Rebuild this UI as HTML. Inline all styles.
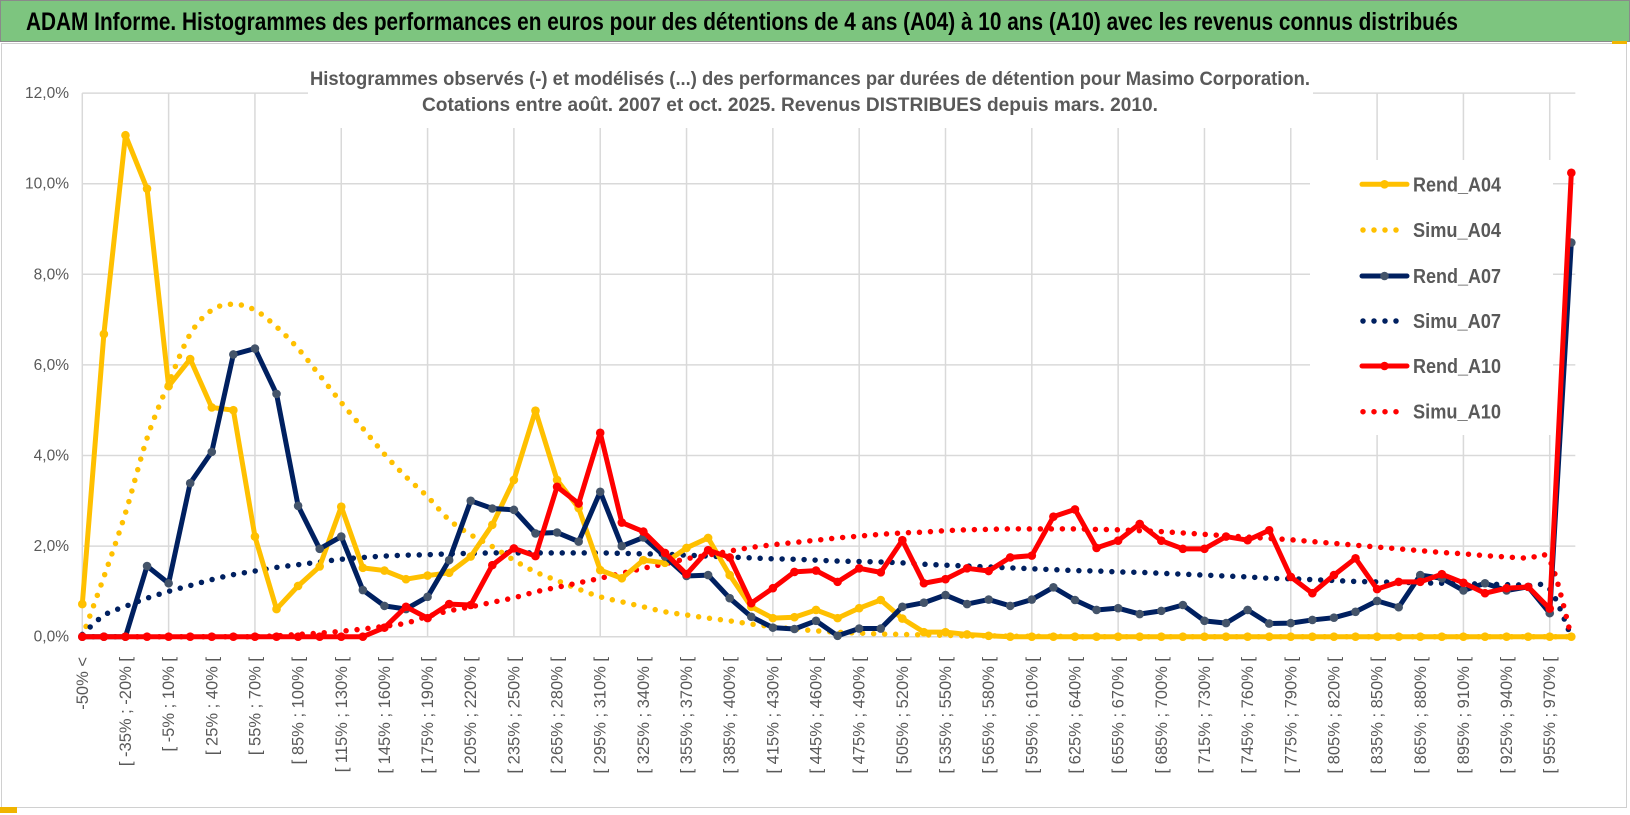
<!DOCTYPE html>
<html><head><meta charset="utf-8">
<style>
html,body{margin:0;padding:0;background:#fff;}
svg{display:block;font-family:"Liberation Sans",Arial,sans-serif;}
</style></head>
<body>
<svg id="chart" width="1630" height="815" viewBox="0 0 1630 815" xmlns="http://www.w3.org/2000/svg">
  <rect x="0.5" y="0.5" width="1629" height="41" fill="#7dc57f" stroke="#8a8a8a"/>
  <text x="26" y="30" font-size="25" font-weight="bold" fill="#000" textLength="1432" lengthAdjust="spacingAndGlyphs">ADAM Informe. Histogrammes des performances en euros pour des détentions de 4 ans (A04) à 10 ans (A10) avec les revenus connus distribués</text>
  <rect x="1.5" y="43.5" width="1625" height="764" fill="#fff" stroke="#d0d0d0"/>
  <rect x="0" y="807" width="17" height="6" fill="#f0b400"/>
  <rect x="1612" y="41" width="15" height="3" fill="#f0b400"/>
  <g id="grid"></g>
  <g id="yaxis"></g>
  <g id="xaxis"></g>
  <rect x="308" y="58" width="1005" height="70" fill="#fff"/>
  <text x="310" y="85" font-size="19" font-weight="bold" fill="#595959" textLength="1000" lengthAdjust="spacingAndGlyphs">Histogrammes observés (-) et modélisés (...) des performances par durées de détention pour Masimo Corporation.</text>
  <text x="422" y="111" font-size="19" font-weight="bold" fill="#595959" textLength="736" lengthAdjust="spacingAndGlyphs">Cotations entre août. 2007 et oct. 2025.  Revenus DISTRIBUES depuis mars. 2010.</text>
  <rect x="1310" y="160" width="243" height="275" fill="#fff"/>
  <g id="series"></g>
  <g id="legend"></g>
</svg>
<script>
// ---- data ----
const lowerBounds = [];
for (let b = -50; b <= 955; b += 15) lowerBounds.push(b);
const categories = ["-50% <"].concat(lowerBounds.map(b => "[ " + b + "% ; " + (b + 15) + "% [")).concat(["970% >"]).slice(0, 70);
const yTicks = [0, 2, 4, 6, 8, 10, 12];
const yTickLabels = ["0,0%", "2,0%", "4,0%", "6,0%", "8,0%", "10,0%", "12,0%"];
const rendA04 = [0.72,6.68,11.07,9.89,5.53,6.13,5.06,5.0,2.21,0.61,1.12,1.55,2.87,1.52,1.46,1.27,1.35,1.41,1.77,2.47,3.46,4.99,3.46,2.84,1.47,1.29,1.69,1.63,1.96,2.18,1.36,0.66,0.41,0.43,0.59,0.41,0.63,0.81,0.4,0.1,0.1,0.05,0.02,0,0,0,0,0,0,0,0,0,0,0,0,0,0,0,0,0,0,0,0,0,0,0,0,0,0,0];
const simuA04 = [0,1.32,2.73,4.38,5.6,6.68,7.21,7.34,7.21,6.84,6.36,5.77,5.17,4.6,4.03,3.53,3.09,2.58,2.25,1.99,1.69,1.43,1.24,1.05,0.88,0.77,0.66,0.55,0.48,0.41,0.35,0.28,0.22,0.17,0.13,0.10,0.08,0.06,0.05,0.04,0.03,0.02,0.02,0.01,0.01,0.01,0,0,0,0,0,0,0,0,0,0,0,0,0,0,0,0,0,0,0,0,0,0,0,0];
const rendA07 = [0,0,0,1.56,1.18,3.39,4.08,6.23,6.36,5.36,2.89,1.94,2.21,1.03,0.68,0.61,0.88,1.69,3.0,2.83,2.80,2.28,2.30,2.10,3.2,2.0,2.19,1.77,1.34,1.36,0.85,0.44,0.2,0.17,0.35,0.02,0.18,0.18,0.66,0.75,0.92,0.72,0.82,0.68,0.82,1.09,0.81,0.59,0.63,0.50,0.57,0.70,0.35,0.3,0.59,0.29,0.3,0.37,0.42,0.55,0.79,0.65,1.36,1.29,1.02,1.18,1.02,1.10,0.52,8.7];
const simuA07 = [0.05,0.47,0.67,0.85,1.0,1.13,1.26,1.37,1.45,1.53,1.59,1.65,1.71,1.75,1.78,1.80,1.81,1.83,1.84,1.85,1.85,1.85,1.85,1.85,1.85,1.84,1.83,1.82,1.80,1.78,1.76,1.74,1.72,1.71,1.69,1.67,1.66,1.65,1.63,1.60,1.58,1.56,1.54,1.52,1.50,1.48,1.46,1.45,1.43,1.42,1.40,1.38,1.36,1.34,1.32,1.29,1.28,1.26,1.24,1.22,1.21,1.20,1.19,1.18,1.17,1.16,1.15,1.13,1.05,0];
const rendA10 = [0,0,0,0,0,0,0,0,0,0,0,0,0,0.0,0.2,0.66,0.41,0.72,0.7,1.58,1.95,1.78,3.31,2.94,4.5,2.52,2.32,1.85,1.38,1.91,1.75,0.74,1.07,1.43,1.46,1.21,1.51,1.42,2.13,1.18,1.27,1.51,1.45,1.75,1.79,2.65,2.81,1.96,2.12,2.49,2.12,1.94,1.94,2.21,2.13,2.35,1.32,0.96,1.36,1.73,1.05,1.21,1.21,1.38,1.19,0.96,1.07,1.10,0.62,10.24];
const simuA10 = [0,0,0,0,0,0,0,0,0,0.02,0.05,0.08,0.12,0.17,0.23,0.30,0.45,0.57,0.66,0.76,0.86,0.99,1.09,1.19,1.29,1.40,1.51,1.61,1.72,1.80,1.89,1.97,2.03,2.08,2.13,2.18,2.22,2.26,2.29,2.31,2.34,2.36,2.37,2.38,2.38,2.38,2.38,2.37,2.36,2.34,2.32,2.29,2.26,2.23,2.20,2.17,2.14,2.10,2.06,2.02,1.98,1.94,1.90,1.86,1.83,1.79,1.76,1.73,1.68,0];
const seriesNames = ["Rend_A04","Simu_A04","Rend_A07","Simu_A07","Rend_A10","Simu_A10"];

// ---- scales ----
const NS = "http://www.w3.org/2000/svg";
const X0 = 82.3, XSTEP = 21.58, Y0 = 636.7, YPER = 45.3;
function xPos(i){ return X0 + XSTEP * i; }
function yPos(v){ return Y0 - YPER * v; }
function mk(tag, attrs, parent){
  const e = document.createElementNS(NS, tag);
  for (const k in attrs) e.setAttribute(k, attrs[k]);
  parent.appendChild(e);
  return e;
}
const grid = document.getElementById('grid');
const yaxis = document.getElementById('yaxis');
const xaxis = document.getElementById('xaxis');
const seriesG = document.getElementById('series');
const legend = document.getElementById('legend');
const xEnd = xPos(categories.length - 1) + 4;

yTicks.forEach((t, k) => {
  const l = mk('line', {x1: X0, x2: xEnd, y1: yPos(t), y2: yPos(t), stroke: '#d9d9d9', 'stroke-width': 1.5}, grid);
  
  
  const tx = mk('text', {x: 69, y: yPos(t) + 5, 'text-anchor': 'end', 'font-size': 15.5, fill: '#595959'}, yaxis);
  tx.textContent = yTickLabels[k];
  
  
});
for (let i = 0; i < categories.length; i += 4) {
  const l = mk('line', {x1: xPos(i), x2: xPos(i), y1: yPos(12), y2: Y0, stroke: '#d9d9d9', 'stroke-width': 1.5}, grid);
  
  
}
for (let i = 0; i < categories.length - 1; i += 2) {
  const x = xPos(i) + 5.5, y = 657;
  const tx = mk('text', {x: x, y: y, transform: 'rotate(-90 ' + x + ' ' + y + ')', 'text-anchor': 'end', 'font-size': 16.5, fill: '#595959'}, xaxis);
  tx.textContent = categories[i];
  
  
}

function smoothPath(vals){
  const p = vals.map((v, i) => [xPos(i), yPos(v)]);
  let d = 'M' + p[0][0] + ',' + p[0][1];
  for (let i = 0; i < p.length - 1; i++) {
    const p0 = p[Math.max(0, i - 1)], p1 = p[i], p2 = p[i + 1], p3 = p[Math.min(p.length - 1, i + 2)];
    const c1x = p1[0] + (p2[0] - p0[0]) / 6, c1y = p1[1] + (p2[1] - p0[1]) / 6;
    const c2x = p2[0] - (p3[0] - p1[0]) / 6, c2y = p2[1] - (p3[1] - p1[1]) / 6;
    d += ' C' + c1x + ',' + c1y + ' ' + c2x + ',' + c2y + ' ' + p2[0] + ',' + p2[1];
  }
  return d;
}
function drawSimu(vals, color, name){
  const p = mk('path', {d: smoothPath(vals), fill: 'none', stroke: color, 'stroke-width': 5.5, 'stroke-linecap': 'round', 'stroke-dasharray': '0 11'}, seriesG);
  
  
}
function drawRend(vals, color, markerColor, name){
  const pts = vals.map((v, i) => xPos(i) + ',' + yPos(v)).join(' ');
  const pl = mk('polyline', {points: pts, fill: 'none', stroke: color, 'stroke-width': 5, 'stroke-linejoin': 'round'}, seriesG);
  
  
  vals.forEach((v, i) => {
    const c = mk('circle', {cx: xPos(i), cy: yPos(v), r: 4.3, fill: markerColor}, seriesG);
    
    
  });
}
drawSimu(simuA04, '#ffc000', 'simu-a04-line');
drawSimu(simuA07, '#002060', 'simu-a07-line');
drawSimu(simuA10, '#ff0000', 'simu-a10-line');
drawRend(rendA04, '#ffc000', '#ffc000', 'rend-a04-line');
drawRend(rendA07, '#002060', '#44546a', 'rend-a07-line');
drawRend(rendA10, '#ff0000', '#ff0000', 'rend-a10-line');

const legendColors = ['#ffc000','#ffc000','#002060','#002060','#ff0000','#ff0000'];
const legendRows = [184.3, 230, 276, 321, 366, 411.7];
seriesNames.forEach((nm, k) => {
  const y = legendRows[k];
  const g = mk('g', {}, legend);
  
  
  if (nm.startsWith('Rend')) {
    mk('line', {x1: 1362, x2: 1407, y1: y, y2: y, stroke: legendColors[k], 'stroke-width': 5, 'stroke-linecap': 'round'}, g);
    mk('circle', {cx: 1384.5, cy: y, r: 4.3, fill: k === 2 ? '#44546a' : legendColors[k]}, g);
  } else {
    mk('line', {x1: 1363, x2: 1407, y1: y, y2: y, stroke: legendColors[k], 'stroke-width': 5.5, 'stroke-linecap': 'round', 'stroke-dasharray': '0 11'}, g);
  }
  const t = mk('text', {x: 1413, y: y + 7, 'font-size': 20, 'font-weight': 'bold', fill: '#595959', textLength: 88, lengthAdjust: 'spacingAndGlyphs'}, g);
  t.textContent = nm;
});
</script>
</body></html>
